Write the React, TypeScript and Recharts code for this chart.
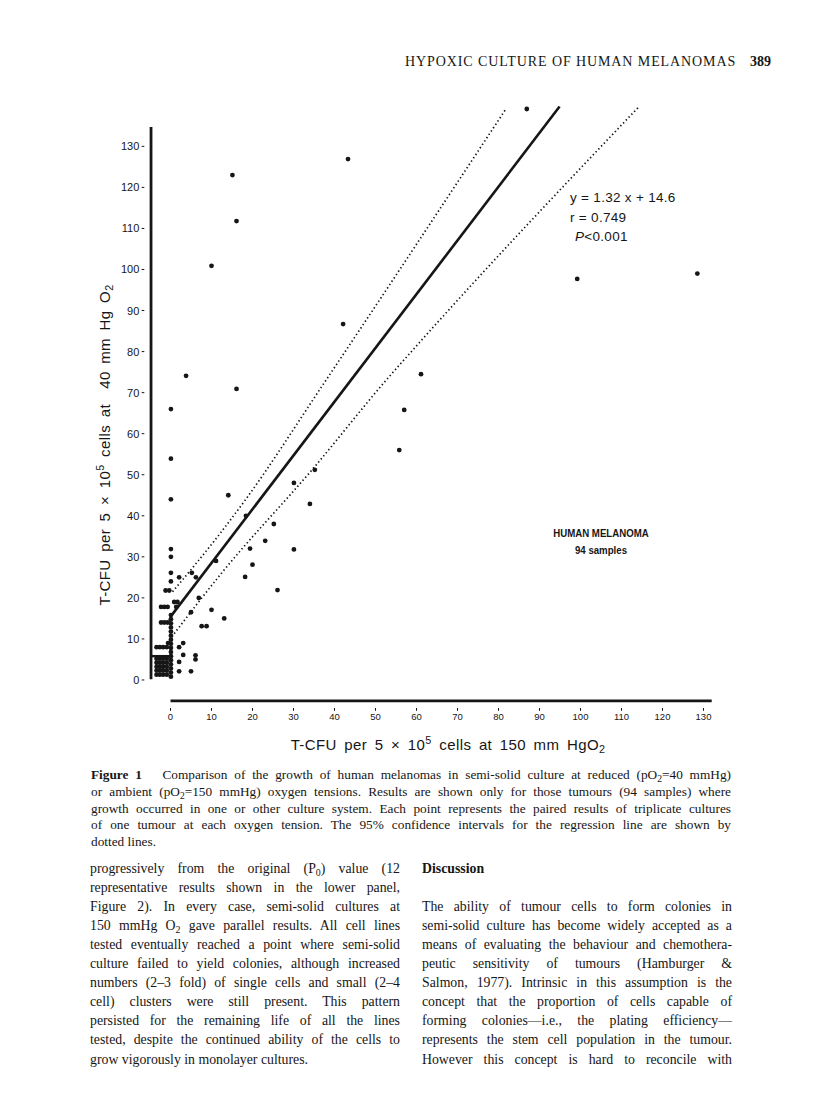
import { ReferenceLine, Scatter, ScatterChart, XAxis, YAxis } from "recharts";

// tick labels
const xTicks = [0, 10, 20, 30, 40, 50, 60, 70, 80, 90, 100, 110, 120, 130];
const yTicks = [0, 10, 20, 30, 40, 50, 60, 70, 80, 90, 100, 110, 120, 130];

// scattered tumours (x = 150 mmHg, y = 40 mmHg)
const spreadPoints = [
  { x: 86.9, y: 139.1 }, { x: 43.3, y: 126.9 }, { x: 15.1, y: 123.0 }, { x: 16.1, y: 111.8 },
  { x: 10.0, y: 100.9 }, { x: 99.2, y: 97.7 }, { x: 128.5, y: 99.0 }, { x: 42.1, y: 86.7 },
  { x: 61.1, y: 74.5 }, { x: 3.8, y: 74.1 }, { x: 16.1, y: 70.9 }, { x: 57.0, y: 65.8 },
  { x: 55.8, y: 56.0 }, { x: 35.2, y: 51.2 }, { x: 30.1, y: 48.0 }, { x: 14.1, y: 45.0 },
  { x: 34.0, y: 42.9 }, { x: 18.4, y: 40.0 }, { x: 25.2, y: 38.0 }, { x: 23.1, y: 33.9 },
  { x: 19.4, y: 32.0 }, { x: 30.1, y: 31.8 }, { x: 11.1, y: 29.0 }, { x: 20.0, y: 28.1 },
  { x: 18.2, y: 25.1 }, { x: 26.1, y: 21.9 }, { x: 13.1, y: 15.0 }, { x: 10.0, y: 17.1 },
  { x: 5.0, y: 16.5 }, { x: 7.6, y: 13.1 }, { x: 8.8, y: 13.1 }, { x: 6.9, y: 20.0 },
  { x: 2.1, y: 25.0 }, { x: 5.2, y: 26.1 }, { x: 6.2, y: 25.0 }, { x: 3.1, y: 9.0 },
  { x: 2.1, y: 8.0 }, { x: 3.1, y: 6.1 }, { x: 2.1, y: 4.4 }, { x: 2.1, y: 2.1 },
  { x: 6.1, y: 6.0 }, { x: 6.1, y: 5.0 }, { x: 5.0, y: 2.1 },
];

// tumours with no growth at 150 mmHg, stacked on x = 0
const zeroColumn = [
  { x: 0.1, y: 66.0 }, { x: 0.1, y: 53.9 }, { x: 0.1, y: 44.0 }, { x: 0.1, y: 31.9 },
  { x: 0.1, y: 30.0 }, { x: 0.1, y: 26.1 }, { x: 0.1, y: 24.0 },
  { x: 0.1, y: 15.8 }, { x: 0.1, y: 14.8 }, { x: 0.1, y: 13.8 }, { x: 0.1, y: 12.8 },
  { x: 0.1, y: 11.8 }, { x: 0.1, y: 10.8 }, { x: 0.1, y: 9.8 }, { x: 0.1, y: 8.8 },
  { x: 0.1, y: 7.8 }, { x: 0.1, y: 6.8 }, { x: 0.1, y: 5.8 }, { x: 0.1, y: 4.8 },
  { x: 0.1, y: 3.8 }, { x: 0.1, y: 2.8 }, { x: 0.1, y: 1.8 }, { x: 0.1, y: 0.8 },
];

// duplicates drawn side by side next to the axis
const tiedPoints = [
  { x: -1.2, y: 21.8 }, { x: -0.3, y: 21.8 },
  { x: 0.9, y: 19.0 }, { x: 1.7, y: 19.0 },
  { x: -2.3, y: 17.8 }, { x: -1.5, y: 17.8 }, { x: -0.7, y: 17.8 }, { x: 1.4, y: 17.8 },
  { x: -2.3, y: 14.0 }, { x: -1.5, y: 14.0 }, { x: -0.7, y: 14.0 },
  { x: -0.6, y: 9.0 },
  { x: -3.4, y: 8.0 }, { x: -2.6, y: 8.0 }, { x: -1.8, y: 8.0 }, { x: -0.9, y: 8.0 },
  { x: -3.4, y: 5.2 }, { x: -2.6, y: 5.2 }, { x: -1.8, y: 5.2 }, { x: -0.9, y: 5.2 },
  { x: -3.4, y: 4.2 }, { x: -2.6, y: 4.2 }, { x: -1.8, y: 4.2 }, { x: -0.9, y: 4.2 },
  { x: -3.4, y: 3.2 }, { x: -2.6, y: 3.2 }, { x: -1.8, y: 3.2 }, { x: -0.9, y: 3.2 },
  { x: -3.4, y: 2.3 }, { x: -2.6, y: 2.3 }, { x: -1.8, y: 2.3 }, { x: -0.9, y: 2.3 },
  { x: -3.4, y: 1.3 }, { x: -2.6, y: 1.3 }, { x: -1.8, y: 1.3 }, { x: -0.9, y: 1.3 },
];

// regression line and its 95% confidence limits
const regressionLine = [{ x: 0.3, y: 15.8 }, { x: 94.9, y: 139.7 }];
const upperCI = [
  { x: 0.5, y: 21.5 }, { x: 12.1, y: 35.7 }, { x: 18.2, y: 43.8 },
  { x: 37.7, y: 72.7 }, { x: 81.8, y: 139.1 },
];
const lowerCI = [
  { x: 0.3, y: 10.5 }, { x: 12.1, y: 25.6 }, { x: 35.2, y: 52.0 },
  { x: 52.3, y: 72.7 }, { x: 60.9, y: 82.4 }, { x: 114.1, y: 139.5 },
];

const ink = "#161616";
const sans = "'Liberation Sans', Arial, sans-serif";
const serif = "'Liberation Serif', 'Times New Roman', serif";

const Dot = (p: any) => <circle cx={p.cx} cy={p.cy} r={2.4} fill={ink} />;
const NoDot = () => <g />;

const XTick = ({ x, y, payload }: any) => (
  <g>
    <line x1={x} x2={x} y1={y + 3.4} y2={y + 6.2} stroke={ink} strokeWidth={1} />
    <text x={x} y={y + 15.4} textAnchor="middle" fontSize={9.5} fontFamily={sans} fill={ink}>
      {payload.value}
    </text>
  </g>
);

const YTick = ({ x, y, payload }: any) => (
  <g>
    <line x1={x - 4.2} x2={x - 1.6} y1={y} y2={y} stroke={ink} strokeWidth={1} />
    <text x={x - 6.6} y={y} dy="0.36em" textAnchor="end" fontSize={11} fontFamily={sans} fill={ink}>
      {payload.value}
    </text>
  </g>
);

const sub = { fontSize: "0.72em", verticalAlign: "-0.28em", lineHeight: 0 } as const;
const sup = { fontSize: "0.72em", verticalAlign: "0.55em", lineHeight: 0 } as const;

function TextLine({ top, left, width, children, last, size }: any) {
  return (
    <div
      style={{
        position: "absolute",
        top,
        left,
        width,
        height: 19,
        lineHeight: "19px",
        fontSize: size,
        textAlign: "justify",
        textAlignLast: last ? "left" : "justify",
        whiteSpace: "nowrap",
        color: ink,
      }}
    >
      {children}
    </div>
  );
}

const leftColumn = [
  <>progressively from the original (P<span style={sub}>0</span>) value (12</>,
  <>representative results shown in the lower panel,</>,
  <>Figure 2). In every case, semi-solid cultures at</>,
  <>150 mmHg O<span style={sub}>2</span> gave parallel results. All cell lines</>,
  <>tested eventually reached a point where semi-solid</>,
  <>culture failed to yield colonies, although increased</>,
  <>numbers (2–3 fold) of single cells and small (2–4</>,
  <>cell) clusters were still present. This pattern</>,
  <>persisted for the remaining life of all the lines</>,
  <>tested, despite the continued ability of the cells to</>,
  <>grow vigorously in monolayer cultures.</>,
];

const rightColumn = [
  <>The ability of tumour cells to form colonies in</>,
  <>semi-solid culture has become widely accepted as a</>,
  <>means of evaluating the behaviour and chemothera-</>,
  <>peutic sensitivity of tumours (Hamburger &amp;</>,
  <>Salmon, 1977). Intrinsic in this assumption is the</>,
  <>concept that the proportion of cells capable of</>,
  <>forming colonies—i.e., the plating efficiency—</>,
  <>represents the stem cell population in the tumour.</>,
  <>However this concept is hard to reconcile with</>,
];

const captionLines = [
  <><b>Figure 1</b>&nbsp;&nbsp; Comparison of the growth of human melanomas in semi-solid culture at reduced (pO<span style={sub}>2</span>=40 mmHg)</>,
  <>or ambient (pO<span style={sub}>2</span>=150 mmHg) oxygen tensions. Results are shown only for those tumours (94 samples) where</>,
  <>growth occurred in one or other culture system. Each point represents the paired results of triplicate cultures</>,
  <>of one tumour at each oxygen tension. The 95% confidence intervals for the regression line are shown by</>,
  <>dotted lines.</>,
];

const axisTitle = {
  position: "absolute",
  height: 18,
  lineHeight: "18px",
  textAlign: "center",
  fontFamily: sans,
  fontSize: 15,
  letterSpacing: 0.4,
  wordSpacing: 3,
  whiteSpace: "nowrap",
} as const;

export default function App() {
  return (
    <div
      style={{
        position: "absolute",
        left: 0,
        top: 0,
        width: 816,
        height: 1110,
        background: "#fff",
        fontFamily: serif,
        color: ink,
        overflow: "hidden",
      }}
    >
      {/* running head */}
      <div style={{ position: "absolute", top: 54, left: 405, fontSize: 14, letterSpacing: 0.9, whiteSpace: "nowrap" }}>
        HYPOXIC CULTURE OF HUMAN MELANOMAS
      </div>
      <div style={{ position: "absolute", top: 54, left: 750, fontSize: 14, fontWeight: "bold" }}>389</div>

      <div style={{ position: "absolute", left: 0, top: 0 }}>
        <ScatterChart width={816} height={760} margin={{ top: 101.2, right: 92, bottom: 0, left: 0 }}>
          <XAxis
            type="number"
            dataKey="x"
            domain={[-6, 135]}
            allowDataOverflow
            ticks={xTicks}
            interval={0}
            axisLine={false}
            tickLine={false}
            tickSize={0}
            tickMargin={0}
            height={55.4}
            tick={<XTick />}
          />
          <YAxis
            type="number"
            dataKey="y"
            domain={[-6, 141]}
            allowDataOverflow
            ticks={yTicks}
            interval={0}
            axisLine={false}
            tickLine={false}
            tickSize={0}
            tickMargin={0}
            width={145.9}
            tick={<YTick />}
          />
          <ReferenceLine segment={[{ x: -4.75, y: 0.2 }, { x: -4.75, y: 134.7 }]} stroke={ink} strokeWidth={2.8} />
          <ReferenceLine segment={[{ x: 0, y: -5.1 }, { x: 132, y: -5.1 }]} stroke={ink} strokeWidth={2.8} />
          <ReferenceLine segment={[{ x: -4.75, y: 5.8 }, { x: 0, y: 5.8 }]} stroke={ink} strokeWidth={2.4} />
          <Scatter
            data={upperCI}
            shape={NoDot}
            line={{ stroke: ink, strokeWidth: 1.7, strokeDasharray: "1.4 2.6" }}
            lineJointType="monotoneX"
            isAnimationActive={false}
          />
          <Scatter
            data={lowerCI}
            shape={NoDot}
            line={{ stroke: ink, strokeWidth: 1.7, strokeDasharray: "1.4 2.6" }}
            lineJointType="monotoneX"
            isAnimationActive={false}
          />
          <Scatter
            data={regressionLine}
            shape={NoDot}
            line={{ stroke: ink, strokeWidth: 2.6 }}
            isAnimationActive={false}
          />
          <Scatter data={spreadPoints} shape={Dot} isAnimationActive={false} />
          <Scatter data={zeroColumn} shape={Dot} isAnimationActive={false} />
          <Scatter data={tiedPoints} shape={Dot} isAnimationActive={false} />
        </ScatterChart>
      </div>

      {/* regression statistics */}
      <div style={{ position: "absolute", left: 570, top: 188, fontFamily: sans, fontSize: 13.5, letterSpacing: 0.3, lineHeight: "19.5px", whiteSpace: "nowrap" }}>
        <div>y = 1.32 x + 14.6</div>
        <div>r = 0.749</div>
        <div style={{ paddingLeft: 5 }}>
          <i>P</i>&lt;0.001
        </div>
      </div>

      <div style={{ position: "absolute", left: 541, width: 120, top: 525, fontFamily: sans, fontSize: 11.5, fontWeight: "bold", lineHeight: "17px", textAlign: "center", whiteSpace: "nowrap" }}>
        <div style={{ transform: "scaleX(0.84)" }}>HUMAN MELANOMA</div>
        <div style={{ transform: "scaleX(0.84)" }}>94 samples</div>
      </div>

      {/* axis titles */}
      <div
        style={{
          ...axisTitle,
          left: 105 - 180,
          top: 445 - 9,
          width: 360,
          transform: "rotate(-90deg)",
          transformOrigin: "center",
        }}
      >
        T-CFU per 5 × 10<span style={sup}>5</span> cells at&nbsp; 40 mm Hg O<span style={sub}>2</span>
      </div>
      <div style={{ ...axisTitle, left: 248, top: 736, width: 400 }}>
        T-CFU per 5 × 10<span style={sup}>5</span> cells at 150 mm HgO<span style={sub}>2</span>
      </div>

      {/* caption */}
      {captionLines.map((c, i) => (
        <TextLine key={"c" + i} top={765 + i * 16.75} left={91} width={640} size={13.3} last={i === captionLines.length - 1}>
          {c}
        </TextLine>
      ))}

      {/* body text */}
      {leftColumn.map((c, i) => (
        <TextLine key={"l" + i} top={859 + i * 19.05} left={90} width={310} size={13.8} last={i === leftColumn.length - 1}>
          {c}
        </TextLine>
      ))}
      <TextLine top={859} left={422} width={310} size={13.8} last>
        <b>Discussion</b>
      </TextLine>
      {rightColumn.map((c, i) => (
        <TextLine key={"r" + i} top={859 + (i + 2) * 19.05} left={422} width={310} size={13.8} last={false}>
          {c}
        </TextLine>
      ))}
    </div>
  );
}
